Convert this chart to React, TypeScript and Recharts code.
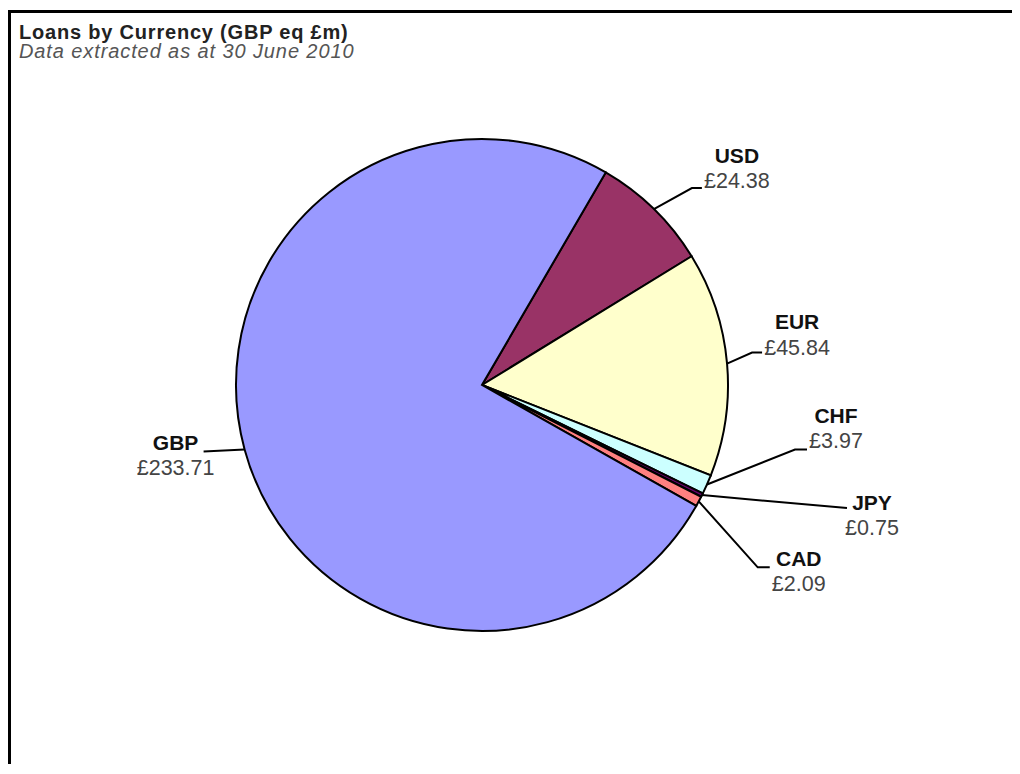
import React from "react";
import { PieChart, Pie, Cell } from "recharts";

const currencies = ["USD", "EUR", "CHF", "JPY", "CAD", "GBP"];
const loanValues = [24.38, 45.84, 3.97, 0.75, 2.09, 233.71];
const sliceColors = ["#993366", "#FFFFCC", "#CCFFFF", "#660066", "#FF8080", "#9999FF"];

const titleText = "Loans by Currency (GBP eq £m)";
const subtitleText = "Data extracted as at 30 June 2010";

// label leader-line layout (style only): elbow offset from slice edge, tail length, text block offsets
const labelLayout: Record<string, { ex: number; ey: number; tail: number; bx: number; ny: number }> = {
  USD: { ex: 38, ey: -21, tail: 10, bx: 35, ny: -33 },
  EUR: { ex: 25, ey: -11, tail: 10, bx: 35, ny: -31 },
  CHF: { ex: 88, ey: -35, tail: 12, bx: 29, ny: -34 },
  JPY: { ex: 145, ey: 13, tail: 0, bx: 25, ny: -6 },
  CAD: { ex: 59, ey: 66, tail: 12, bx: 29, ny: -9 },
  GBP: { ex: -41, ey: 2, tail: 0, bx: -28, ny: -9 },
};

const data = currencies.map((name, i) => ({ name, value: loanValues[i] }));

const FONT = "Arial, 'Liberation Sans', sans-serif";
const RADIAN = Math.PI / 180;

const renderLabel = (props: any) => {
  const { cx, cy, midAngle, outerRadius, name, value } = props;
  const lay = labelLayout[name];
  const sx = cx + outerRadius * Math.cos(-midAngle * RADIAN);
  const sy = cy + outerRadius * Math.sin(-midAngle * RADIAN);
  const mx = sx + lay.ex;
  const my = sy + lay.ey;
  const dir = lay.ex >= 0 ? 1 : -1;
  const tx = mx + dir * lay.tail;
  const ty = my;
  const bx = tx + lay.bx;
  return (
    <g>
      <polyline
        points={`${sx},${sy} ${mx},${my} ${tx},${ty}`}
        fill="none"
        stroke="#000"
        strokeWidth={2}
      />
      <text
        x={bx}
        y={ty + lay.ny}
        textAnchor="middle"
        dominantBaseline="central"
        fontFamily={FONT}
        fontSize={21}
        fontWeight="bold"
        fill="#111"
      >
        {name}
      </text>
      <text
        x={bx}
        y={ty + lay.ny + 26}
        textAnchor="middle"
        dominantBaseline="central"
        fontFamily={FONT}
        fontSize={21.5}
        fill="#444"
      >
        {"£" + Number(value).toFixed(2)}
      </text>
    </g>
  );
};

export default function App() {
  return (
    <div style={{ position: "relative", width: 1004, height: 756 }}>
      <style>{`body{overflow:hidden;background:#fff}`}</style>
      <div
        style={{ position: "absolute", left: 0, top: 2, width: 1012, height: 3, background: "#000" }}
      />
      <div
        style={{ position: "absolute", left: 0, top: 2, width: 3, height: 764, background: "#000" }}
      />
      <div
        style={{
          position: "absolute",
          left: 11,
          top: 14.5,
          fontFamily: FONT,
          fontSize: 20,
          letterSpacing: 0.8,
          fontWeight: "bold",
          color: "#222",
          whiteSpace: "nowrap",
          lineHeight: "19px",
        }}
      >
        {titleText}
      </div>
      <div
        style={{
          position: "absolute",
          left: 11,
          top: 33.5,
          fontFamily: FONT,
          fontSize: 20,
          letterSpacing: 0.9,
          fontStyle: "italic",
          color: "#555",
          whiteSpace: "nowrap",
          lineHeight: "19px",
        }}
      >
        {subtitleText}
      </div>
      <div style={{ position: "absolute", left: 0, top: 0 }}>
        <PieChart width={1004} height={756} margin={{ top: 0, right: 0, bottom: 0, left: 0 }}>
          <Pie
            data={data}
            dataKey="value"
            nameKey="name"
            cx={474}
            cy={377}
            outerRadius={246}
            startAngle={59.8}
            endAngle={-300.2}
            label={renderLabel}
            labelLine={false}
            isAnimationActive={false}
          >
            {data.map((d, i) => (
              <Cell key={d.name} fill={sliceColors[i]} stroke="#000" strokeWidth={2} />
            ))}
          </Pie>
        </PieChart>
      </div>
    </div>
  );
}
